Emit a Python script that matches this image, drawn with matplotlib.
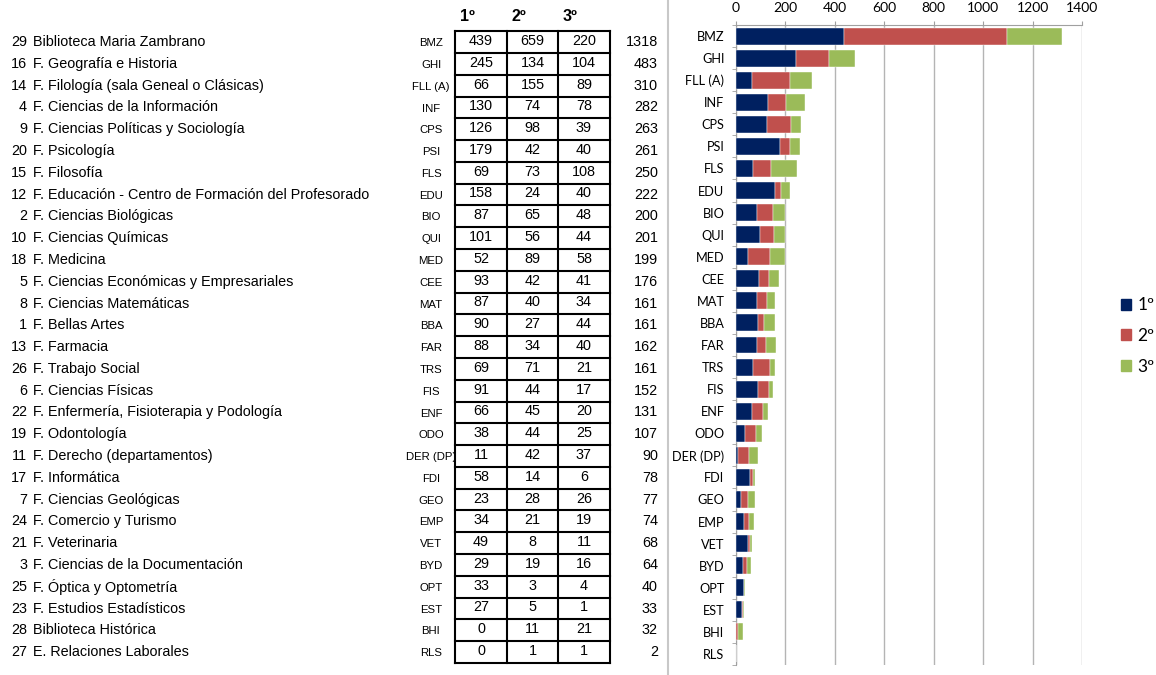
import matplotlib
matplotlib.use("Agg")
import matplotlib.pyplot as plt
import numpy as np
from matplotlib.patches import Patch

ranks = [29, 16, 14, 4, 9, 20, 15, 12, 2, 10, 18, 5, 8, 1, 13, 26, 6, 22, 19, 11,
         17, 7, 24, 21, 3, 25, 23, 28, 27]
names = [
    "Biblioteca Maria Zambrano", "F. Geografía e Historia",
    "F. Filología (sala Geneal o Clásicas)", "F. Ciencias de la Información",
    "F. Ciencias Políticas y Sociología", "F. Psicología", "F. Filosofía",
    "F. Educación - Centro de Formación del Profesorado", "F. Ciencias Biológicas",
    "F. Ciencias Químicas", "F. Medicina", "F. Ciencias Económicas y Empresariales",
    "F. Ciencias Matemáticas", "F. Bellas Artes", "F. Farmacia", "F. Trabajo Social",
    "F. Ciencias Físicas", "F. Enfermería, Fisioterapia y Podología", "F. Odontología",
    "F. Derecho (departamentos)", "F. Informática", "F. Ciencias Geológicas",
    "F. Comercio y Turismo", "F. Veterinaria", "F. Ciencias de la Documentación",
    "F. Óptica y Optometría", "F. Estudios Estadísticos", "Biblioteca Histórica",
    "E. Relaciones Laborales",
]
codes = ["BMZ", "GHI", "FLL (A)", "INF", "CPS", "PSI", "FLS", "EDU", "BIO", "QUI",
         "MED", "CEE", "MAT", "BBA", "FAR", "TRS", "FIS", "ENF", "ODO", "DER (DP)",
         "FDI", "GEO", "EMP", "VET", "BYD", "OPT", "EST", "BHI", "RLS"]
first = [439, 245, 66, 130, 126, 179, 69, 158, 87, 101, 52, 93, 87, 90, 88, 69, 91,
         66, 38, 11, 58, 23, 34, 49, 29, 33, 27, 0, 0]
second = [659, 134, 155, 74, 98, 42, 73, 24, 65, 56, 89, 42, 40, 27, 34, 71, 44,
          45, 44, 42, 14, 28, 21, 8, 19, 3, 5, 11, 1]
third = [220, 104, 89, 78, 39, 40, 108, 40, 48, 44, 58, 41, 34, 44, 40, 21, 17,
         20, 25, 37, 6, 26, 19, 11, 16, 4, 1, 21, 1]
totals = [1318, 483, 310, 282, 263, 261, 250, 222, 200, 201, 199, 176, 161, 161,
          162, 161, 152, 131, 107, 90, 78, 77, 74, 68, 64, 40, 33, 32, 2]
series_labels = ["1º", "2º", "3º"]
colors = ["#002060", "#C0504D", "#9BBB59"]

W, H = 1156, 675
fig = plt.figure(figsize=(W / 100, H / 100), dpi=100)

# ---- left table (x in pixels, y in row index) ----
n = len(codes)
rows = np.arange(n)
ax_t = fig.add_axes([0, 0, 1, 1])
ax_t.set_xlim(0, W)
ax_t.set_ylim(29.05, -1.93)
ax_t.axis("off")
arial = "Liberation Sans"
for i in rows:
    ax_t.text(27, i, str(ranks[i]), ha="right", va="center", fontsize=10.4, family=arial)
    ax_t.text(33, i, names[i], ha="left", va="center", fontsize=10.4, family=arial)
    ax_t.text(431, i + 0.05, codes[i], ha="center", va="center", fontsize=8.2, family=arial)
    ax_t.text(658, i, str(totals[i]), ha="right", va="center", fontsize=10.4, family=arial)

col_edges = [455, 507, 558, 610]
col_mid = [(a + b) / 2 for a, b in zip(col_edges[:-1], col_edges[1:])]
# white backing so overflow of codes is hidden under the box
ax_t.fill_between([col_edges[0], col_edges[-1]], -0.5, n - 0.5, color="white", zorder=2)
for j, vals in enumerate([first, second, third]):
    for i in rows:
        ax_t.text(col_mid[j], i - 0.05, str(vals[i]), ha="center", va="center",
                  fontsize=10.4, family=arial, zorder=3)
    ax_t.text(col_edges[j] + 5, -1.15, series_labels[j], ha="left", va="center",
              fontsize=11.5, fontweight="bold", family=arial)
for xe in col_edges:
    ax_t.plot([xe, xe], [-0.5, n - 0.5], color="black", lw=1.5, zorder=4)
for yb in np.arange(-0.5, n, 1.0):
    ax_t.plot([col_edges[0], col_edges[-1]], [yb, yb], color="black", lw=1.5, zorder=4)
ax_t.plot([668, 668], [-1.93, 29.05], color="#c8c8c8", lw=1.5)

# ---- stacked bar chart ----
x0, x1 = 735.5 / W, 1082 / W
y_top, y_bot = 25 / H, 665 / H
ax = fig.add_axes([x0, 1 - y_bot, x1 - x0, y_bot - y_top])
left = np.zeros(n)
for vals, c, lab in zip([first, second, third], colors, series_labels):
    ax.barh(rows, vals, left=left, height=0.77, color=c, edgecolor="white",
            linewidth=0.3, label=lab, zorder=3)
    left += np.array(vals)

ax.set_xlim(0, 1400)
ax.set_ylim(n - 0.5, -0.5)
ax.set_xticks(np.arange(0, 1401, 200))
ax.xaxis.tick_top()
ax.grid(axis="x", color="#b4b4b4", lw=1, zorder=0)
ax.set_yticks(rows)
ax.set_yticklabels(codes)
ax.set_yticks(np.arange(-0.5, n, 1.0), minor=True)
ax.tick_params(axis="y", which="major", length=0, pad=8, labelsize=9.2)
ax.tick_params(axis="y", which="minor", length=3, color="#a0a0a0", direction="out")
ax.tick_params(axis="x", length=3, color="#a0a0a0", pad=5, labelsize=10)
for lab in ax.get_yticklabels() + ax.get_xticklabels():
    lab.set_family("Lato")
for s in ["right", "bottom"]:
    ax.spines[s].set_visible(False)
for s in ["left", "top"]:
    ax.spines[s].set_color("#a0a0a0")

handles = [Patch(color=c) for c in colors]
fig.legend(handles, series_labels, loc="center left",
           bbox_to_anchor=(1121 / W, 1 - 336 / H), frameon=False,
           borderpad=0, borderaxespad=0,
           prop={"family": ["Lato", "DejaVu Sans"], "size": 12.5},
           handlelength=0.6, handleheight=0.6,
           handletextpad=0.35, labelspacing=0.85)

fig.savefig("out.png", dpi=100)
